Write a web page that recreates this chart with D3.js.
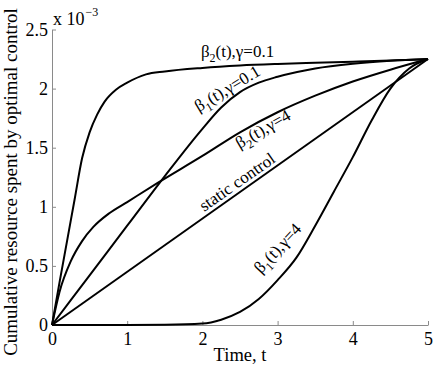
<!DOCTYPE html>
<html>
<head>
<meta charset="utf-8">
<script src="https://cdn.jsdelivr.net/npm/d3@7"></script>
<style>
  body { margin: 0; background: #fff; }
  text { font-family: "Liberation Serif", "Times New Roman", serif; fill: #000; }
</style>
</head>
<body>
<div class="main"></div>
<script>
// Tick values
let time_ticks = [0, 1, 2, 3, 4, 5];
let res_ticks = [0, 0.5, 1, 1.5, 2, 2.5];

// Cumulative resource (x 10^-3)
let t_static = [0, 5];
let v_static = [0, 2.25];

let t_b2_g01 = [0, 0.1, 0.2, 0.3, 0.4, 0.5, 0.6, 0.7, 0.85, 1, 1.25, 1.5, 2, 2.5, 3, 3.5, 4, 4.5, 5];
let v_b2_g01 = [0, 0.36, 0.71, 1.06, 1.41, 1.63, 1.78, 1.89, 1.99, 2.05, 2.12, 2.145, 2.175, 2.195, 2.208, 2.218, 2.228, 2.238, 2.25];

let t_b1_g01 = [0, 0.5, 1, 1.5, 2, 2.25, 2.5, 2.75, 3, 3.5, 4, 4.5, 5];
let v_b1_g01 = [0, 0.42, 0.84, 1.26, 1.66, 1.84, 1.97, 2.05, 2.1, 2.17, 2.21, 2.235, 2.25];

let t_b2_g4 = [0, 0.1, 0.25, 0.4, 0.55, 0.75, 1, 1.4, 2, 2.5, 3, 3.5, 4, 4.5, 5];
let v_b2_g4 = [0, 0.28, 0.54, 0.71, 0.83, 0.94, 1.04, 1.2, 1.43, 1.63, 1.8, 1.94, 2.06, 2.16, 2.25];

let t_b1_g4 = [0, 1, 1.5, 2, 2.25, 2.5, 2.75, 3, 3.25, 3.5, 3.75, 4, 4.25, 4.5, 4.75, 5];
let v_b1_g4 = [0, 0, 0.002, 0.012, 0.045, 0.11, 0.22, 0.38, 0.57, 0.84, 1.13, 1.42, 1.73, 2.0, 2.17, 2.25];

// Curve labels: greek letter, subscript, rest
let label_base = ["β", "β", "β", "", "β"];
let label_sub = ["2", "1", "2", "", "1"];
let label_rest = ["(t),γ=0.1", "(t),γ=0.1", "(t),γ=4", "static control", "(t),γ=4"];

let width = 436, height = 366;
let svg = d3.select("div.main").append("svg")
    .attr("width", width)
    .attr("height", height)
    ;

let x = d3.scaleLinear().domain([0, 5]).range([52, 428]);
let y = d3.scaleLinear().domain([0, 2.5]).range([325, 29.5]);

// Axes, ticks pointing inwards like matlab
let xAxis = d3.axisBottom(x)
    .tickValues(time_ticks)
    .tickFormat(d3.format("~g"))
    .tickSizeInner(-4)
    .tickSizeOuter(0)
    .tickPadding(7)
    ;
let yAxis = d3.axisLeft(y)
    .tickValues(res_ticks)
    .tickFormat(d3.format("~g"))
    .tickSizeInner(-4)
    .tickSizeOuter(0)
    .tickPadding(4)
    ;

let gx = svg.append("g")
    .attr("transform", "translate(0," + y(0) + ")")
    .call(xAxis)
    ;
let gy = svg.append("g")
    .attr("transform", "translate(" + x(0) + ",0)")
    .call(yAxis)
    ;
[gx, gy].forEach(function(g) {
    g.attr("font-family", null);
    g.selectAll("path, line").attr("stroke", "#8a8a8a");
    g.selectAll("text")
        .attr("font-size", 18)
        .attr("fill", "#000")
        ;
});

// Exponent label
let ex = svg.append("text")
    .attr("x", 53)
    .attr("y", 25)
    .attr("font-size", 18)
    ;
ex.append("tspan").text("x 10");
ex.append("tspan").attr("font-size", 12).attr("dy", -9).attr("dx", 1).text("−3");

// Axis titles
svg.append("text")
    .attr("x", 240)
    .attr("y", 361)
    .attr("text-anchor", "middle")
    .attr("font-size", 18.5)
    .text("Time, t")
    ;
svg.append("text")
    .attr("transform", "translate(17,182) rotate(-90)")
    .attr("text-anchor", "middle")
    .attr("font-size", 19)
    .text("Cumulative resource spent by optimal control")
    ;

// Curves
let line = d3.line()
    .x(function(d) { return x(d[0]); })
    .y(function(d) { return y(d[1]); })
    .curve(d3.curveMonotoneX)
    ;

let series = [
    [t_static, v_static],
    [t_b2_g01, v_b2_g01],
    [t_b1_g01, v_b1_g01],
    [t_b2_g4, v_b2_g4],
    [t_b1_g4, v_b1_g4]
];

series.forEach(function(s) {
    let pts = s[0].map(function(t, i) { return [t, s[1][i]]; });
    svg.append("path")
        .datum(pts)
        .attr("fill", "none")
        .attr("stroke", "#000")
        .attr("stroke-width", 2)
        .attr("d", line)
        ;
});

// Label anchors: a point on the curve (time, value), a pixel offset from it, and rotation
let anchors = [
    [1.98, 2.27, 0, 0, 0],
    [1.95, 1.80, 0, 0, -31],
    [2.40, 1.59, 7, 12, -30],
    [2.05, 0.9225, -2, -4, -35],
    [2.78, 0.43, 0, 0, -47]
];

label_rest.forEach(function(r, i) {
    let a = anchors[i];
    let px = x(a[0]) + a[2], py = y(a[1]) + a[3];
    let txt = svg.append("text")
        .attr("font-size", 17)
        .attr("transform", "translate(" + px + "," + py + ") rotate(" + a[4] + ")")
        ;
    if (label_base[i] != "") {
        txt.append("tspan").text(label_base[i]);
        txt.append("tspan").attr("font-size", 12).attr("dy", 5).text(label_sub[i]);
        txt.append("tspan").attr("dy", -5).text(r);
    } else {
        txt.append("tspan").text(r);
    }
});
</script>
</body>
</html>
